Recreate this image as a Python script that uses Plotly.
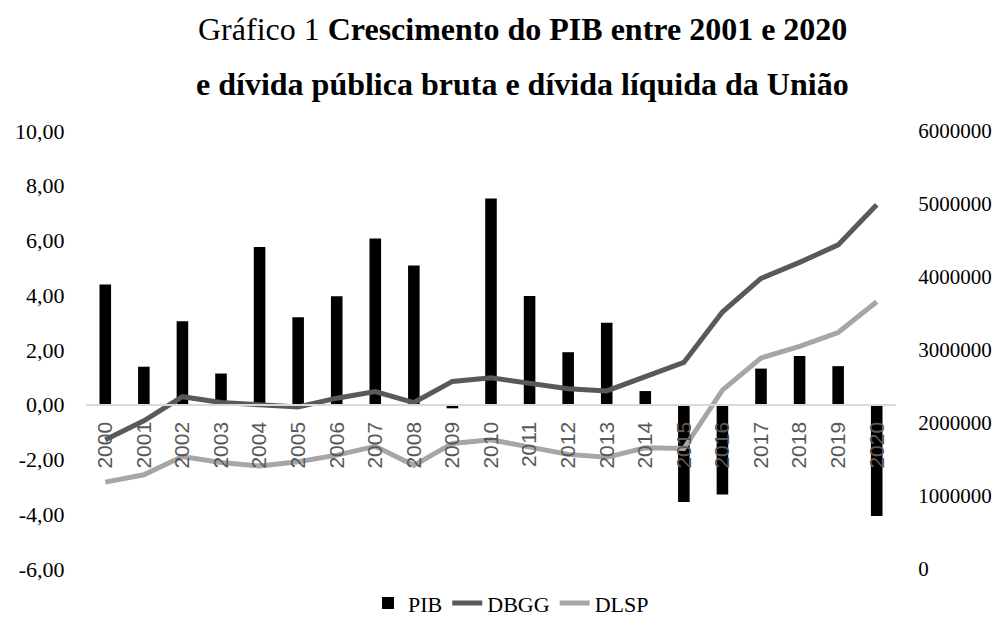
import plotly.graph_objects as go

years = [str(y) for y in range(2000, 2021)]
pib = [4.39, 1.39, 3.05, 1.14, 5.76, 3.20, 3.96, 6.07, 5.09, -0.13, 7.53,
       3.97, 1.92, 3.00, 0.50, -3.55, -3.28, 1.32, 1.78, 1.41, -4.06]
dbgg = [1770000, 2030000, 2360000, 2280000, 2250000, 2220000, 2340000, 2430000,
        2280000, 2570000, 2620000, 2540000, 2470000, 2440000, 2630000, 2830000,
        3520000, 3980000, 4200000, 4440000, 4990000]
dlsp = [1190000, 1290000, 1540000, 1460000, 1410000, 1470000, 1560000, 1680000,
        1420000, 1720000, 1770000, 1670000, 1570000, 1530000, 1660000, 1650000,
        2450000, 2890000, 3050000, 3240000, 3660000]

left_ticks = [-6, -4, -2, 0, 2, 4, 6, 8, 10]
left_labels = ["-6,00", "-4,00", "-2,00", "0,00", "2,00", "4,00", "6,00", "8,00", "10,00"]
right_ticks = [0, 1000000, 2000000, 3000000, 4000000, 5000000, 6000000]
right_labels = ["0", "1000000", "2000000", "3000000", "4000000", "5000000", "6000000"]

title_line1 = "Gráfico 1 <b>Crescimento do PIB entre 2001 e 2020</b>"
title_line2 = "<b>e dívida pública bruta e dívida líquida da União</b>"

serif = "Liberation Serif, Times New Roman, serif"
sans = "Liberation Sans, Arial, sans-serif"

fig = go.Figure()
fig.add_trace(go.Bar(x=years, y=pib, name="PIB", marker=dict(color="#000000", line=dict(width=0)),
                     yaxis="y"))
fig.add_trace(go.Scatter(x=years, y=dbgg, name="DBGG", mode="lines",
                         line=dict(color="#595959", width=5), yaxis="y2"))
fig.add_trace(go.Scatter(x=years, y=dlsp, name="DLSP", mode="lines",
                         line=dict(color="#a6a6a6", width=5), yaxis="y2"))

fig.update_layout(
    width=995, height=620,
    margin=dict(l=78, r=107, t=123, b=59, autoexpand=False),
    paper_bgcolor="white", plot_bgcolor="white",
    bargap=0.70,
    showlegend=True,
    legend=dict(orientation="h", x=0.5247, xanchor="center", y=-0.078, yanchor="middle",
                font=dict(family=serif, size=22, color="#000000"),
                traceorder="normal"),
    xaxis=dict(type="category", range=[-0.5, 20.5], anchor="free", position=0.375,
               showline=True, linecolor="#d9d9d9", linewidth=1.5, showgrid=False, zeroline=False,
               tickangle=-90, ticks="outside", ticklen=8, tickcolor="rgba(0,0,0,0)",
               automargin=False,
               tickfont=dict(family=sans, size=21, color="#595959")),
    yaxis=dict(range=[-6, 10], tickvals=left_ticks, ticktext=left_labels, showgrid=False,
               zeroline=False, showline=False, ticks="outside", ticklen=16, automargin=False,
               tickcolor="rgba(0,0,0,0)", tickfont=dict(family=serif, size=22, color="#000000")),
    yaxis2=dict(range=[0, 6000000], overlaying="y", side="right", tickvals=right_ticks,
                ticktext=right_labels, showgrid=False, zeroline=False, showline=False,
                ticks="outside", ticklen=17, tickcolor="rgba(0,0,0,0)", automargin=False,
                tickfont=dict(family=serif, size=21, color="#000000")),
    annotations=[
        dict(text=title_line1, xref="paper", yref="paper", x=0.5395, y=1.2329,
             xanchor="center", yanchor="middle", showarrow=False,
             font=dict(family=serif, size=32, color="#000000")),
        dict(text=title_line2, xref="paper", yref="paper", x=0.5395, y=1.1073,
             xanchor="center", yanchor="middle", showarrow=False,
             font=dict(family=serif, size=32, color="#000000")),
    ],
)

fig.write_html("out.html")
